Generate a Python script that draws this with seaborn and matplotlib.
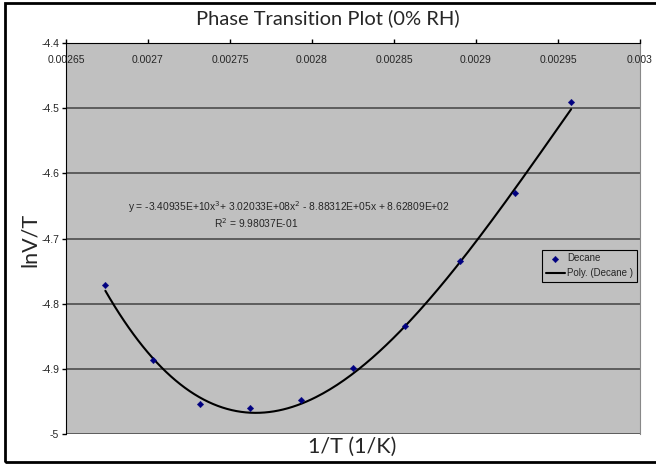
import numpy as np
import pandas as pd
import seaborn as sns
import matplotlib.pyplot as plt
from matplotlib.patches import Rectangle

# data
inv_t = [0.002674, 0.002703, 0.002732, 0.002762, 0.002793,
         0.002825, 0.002857, 0.002890, 0.002924, 0.002958]
ln_v_t = [-4.772, -4.886, -4.954, -4.960, -4.948,
          -4.898, -4.835, -4.734, -4.630, -4.491]
# cubic trendline coefficients as printed on the chart
poly_coef = [-3.40935e10, 3.02033e8, -8.88312e5, 8.62809e2]

x_ticks = [0.00265, 0.0027, 0.00275, 0.0028, 0.00285, 0.0029, 0.00295, 0.003]
x_tick_labels = ["0.00265", "0.0027", "0.00275", "0.0028",
                 "0.00285", "0.0029", "0.00295", "0.003"]
y_ticks = [-5, -4.9, -4.8, -4.7, -4.6, -4.5, -4.4]
y_tick_labels = ["-5", "-4.9", "-4.8", "-4.7", "-4.6", "-4.5", "-4.4"]

df = pd.DataFrame({"x": inv_t, "y": ln_v_t})
xs = np.linspace(min(inv_t), max(inv_t), 200)
fit = pd.DataFrame({"x": xs, "y": np.polyval(poly_coef, xs)})

sns.set_style("white", {"axes.facecolor": "#c0c0c0"})
plt.rcParams["font.family"] = ["Liberation Sans", "DejaVu Sans"]

fig = plt.figure(figsize=(6.56, 4.65), dpi=100)
ax = fig.add_axes([66 / 656, 1 - 434 / 465, 574 / 656, 391 / 465])

sns.lineplot(data=fit, x="x", y="y", ax=ax, color="black", linewidth=1.5,
             label="Poly. (Decane )", zorder=3)
sns.scatterplot(data=df, x="x", y="y", ax=ax, marker="D", color="#000080",
                edgecolor="#000080", s=11, label="Decane", zorder=4)

ax.set_xlim(0.00265, 0.003)
ax.set_ylim(-5, -4.4)
ax.set_xticks(x_ticks)
ax.set_xticklabels(x_tick_labels, fontsize=7.5)
ax.set_yticks(y_ticks)
ax.set_yticklabels(y_tick_labels, fontsize=7.5)

ax.xaxis.tick_top()
ax.tick_params(axis="x", top=True, labeltop=True, bottom=False, labelbottom=False,
               direction="out", length=3, width=1, pad=-18.5, color="black")
ax.tick_params(axis="y", left=True, direction="out", length=3, width=1, pad=2,
               color="black")

ax.grid(axis="y", color="#555555", linewidth=1.3)
ax.grid(axis="x", visible=False)
ax.set_axisbelow(True)
ax.spines["bottom"].set_visible(False)
ax.spines["right"].set_color("#888888")
ax.spines["right"].set_linewidth(0.8)
ax.spines["left"].set_color("black")
ax.spines["top"].set_color("black")

ax.set_xlabel("")
ax.set_ylabel("")
fig.text(328 / 656, 1 - 18 / 465, "Phase Transition Plot (0% RH)", ha="center", va="center",
         fontsize=14.5, family="Lato")
fig.text(352 / 656, 1 - 447 / 465, "1/T (1/K)", ha="center", va="center",
         fontsize=15.5, family="Lato")
fig.text(30 / 656, 1 - 240 / 465, "lnV/T", ha="center", va="center",
         fontsize=15.5, rotation=90, family="Lato")

# trendline label
ax.text(0.002786, -4.652, "y = -3.40935E+10x$^3$+ 3.02033E+08x$^2$ - 8.88312E+05x + 8.62809E+02",
        ha="center", va="center", fontsize=7.4)
ax.text(0.002766, -4.676, "R$^2$ = 9.98037E-01", ha="center", va="center", fontsize=7.4)

handles, labels = ax.get_legend_handles_labels()
order = [labels.index("Decane"), labels.index("Poly. (Decane )")]
leg = ax.legend([handles[i] for i in order], [labels[i] for i in order],
                loc="center left", bbox_to_anchor=(471 / 574, 0.43), fontsize=7,
                frameon=True, fancybox=False, edgecolor="black", framealpha=1,
                borderpad=0.4, handlelength=2.0, handletextpad=0.2, labelspacing=0.5)
leg.get_frame().set_linewidth(0.8)

# outer chart frame (right edge runs off the image)
fig.patches.append(Rectangle((5 / 656, 3 / 465), 660 / 656, 459 / 465,
                             transform=fig.transFigure, fill=False,
                             edgecolor="black", linewidth=2))

fig.savefig("out.png", dpi=100)
